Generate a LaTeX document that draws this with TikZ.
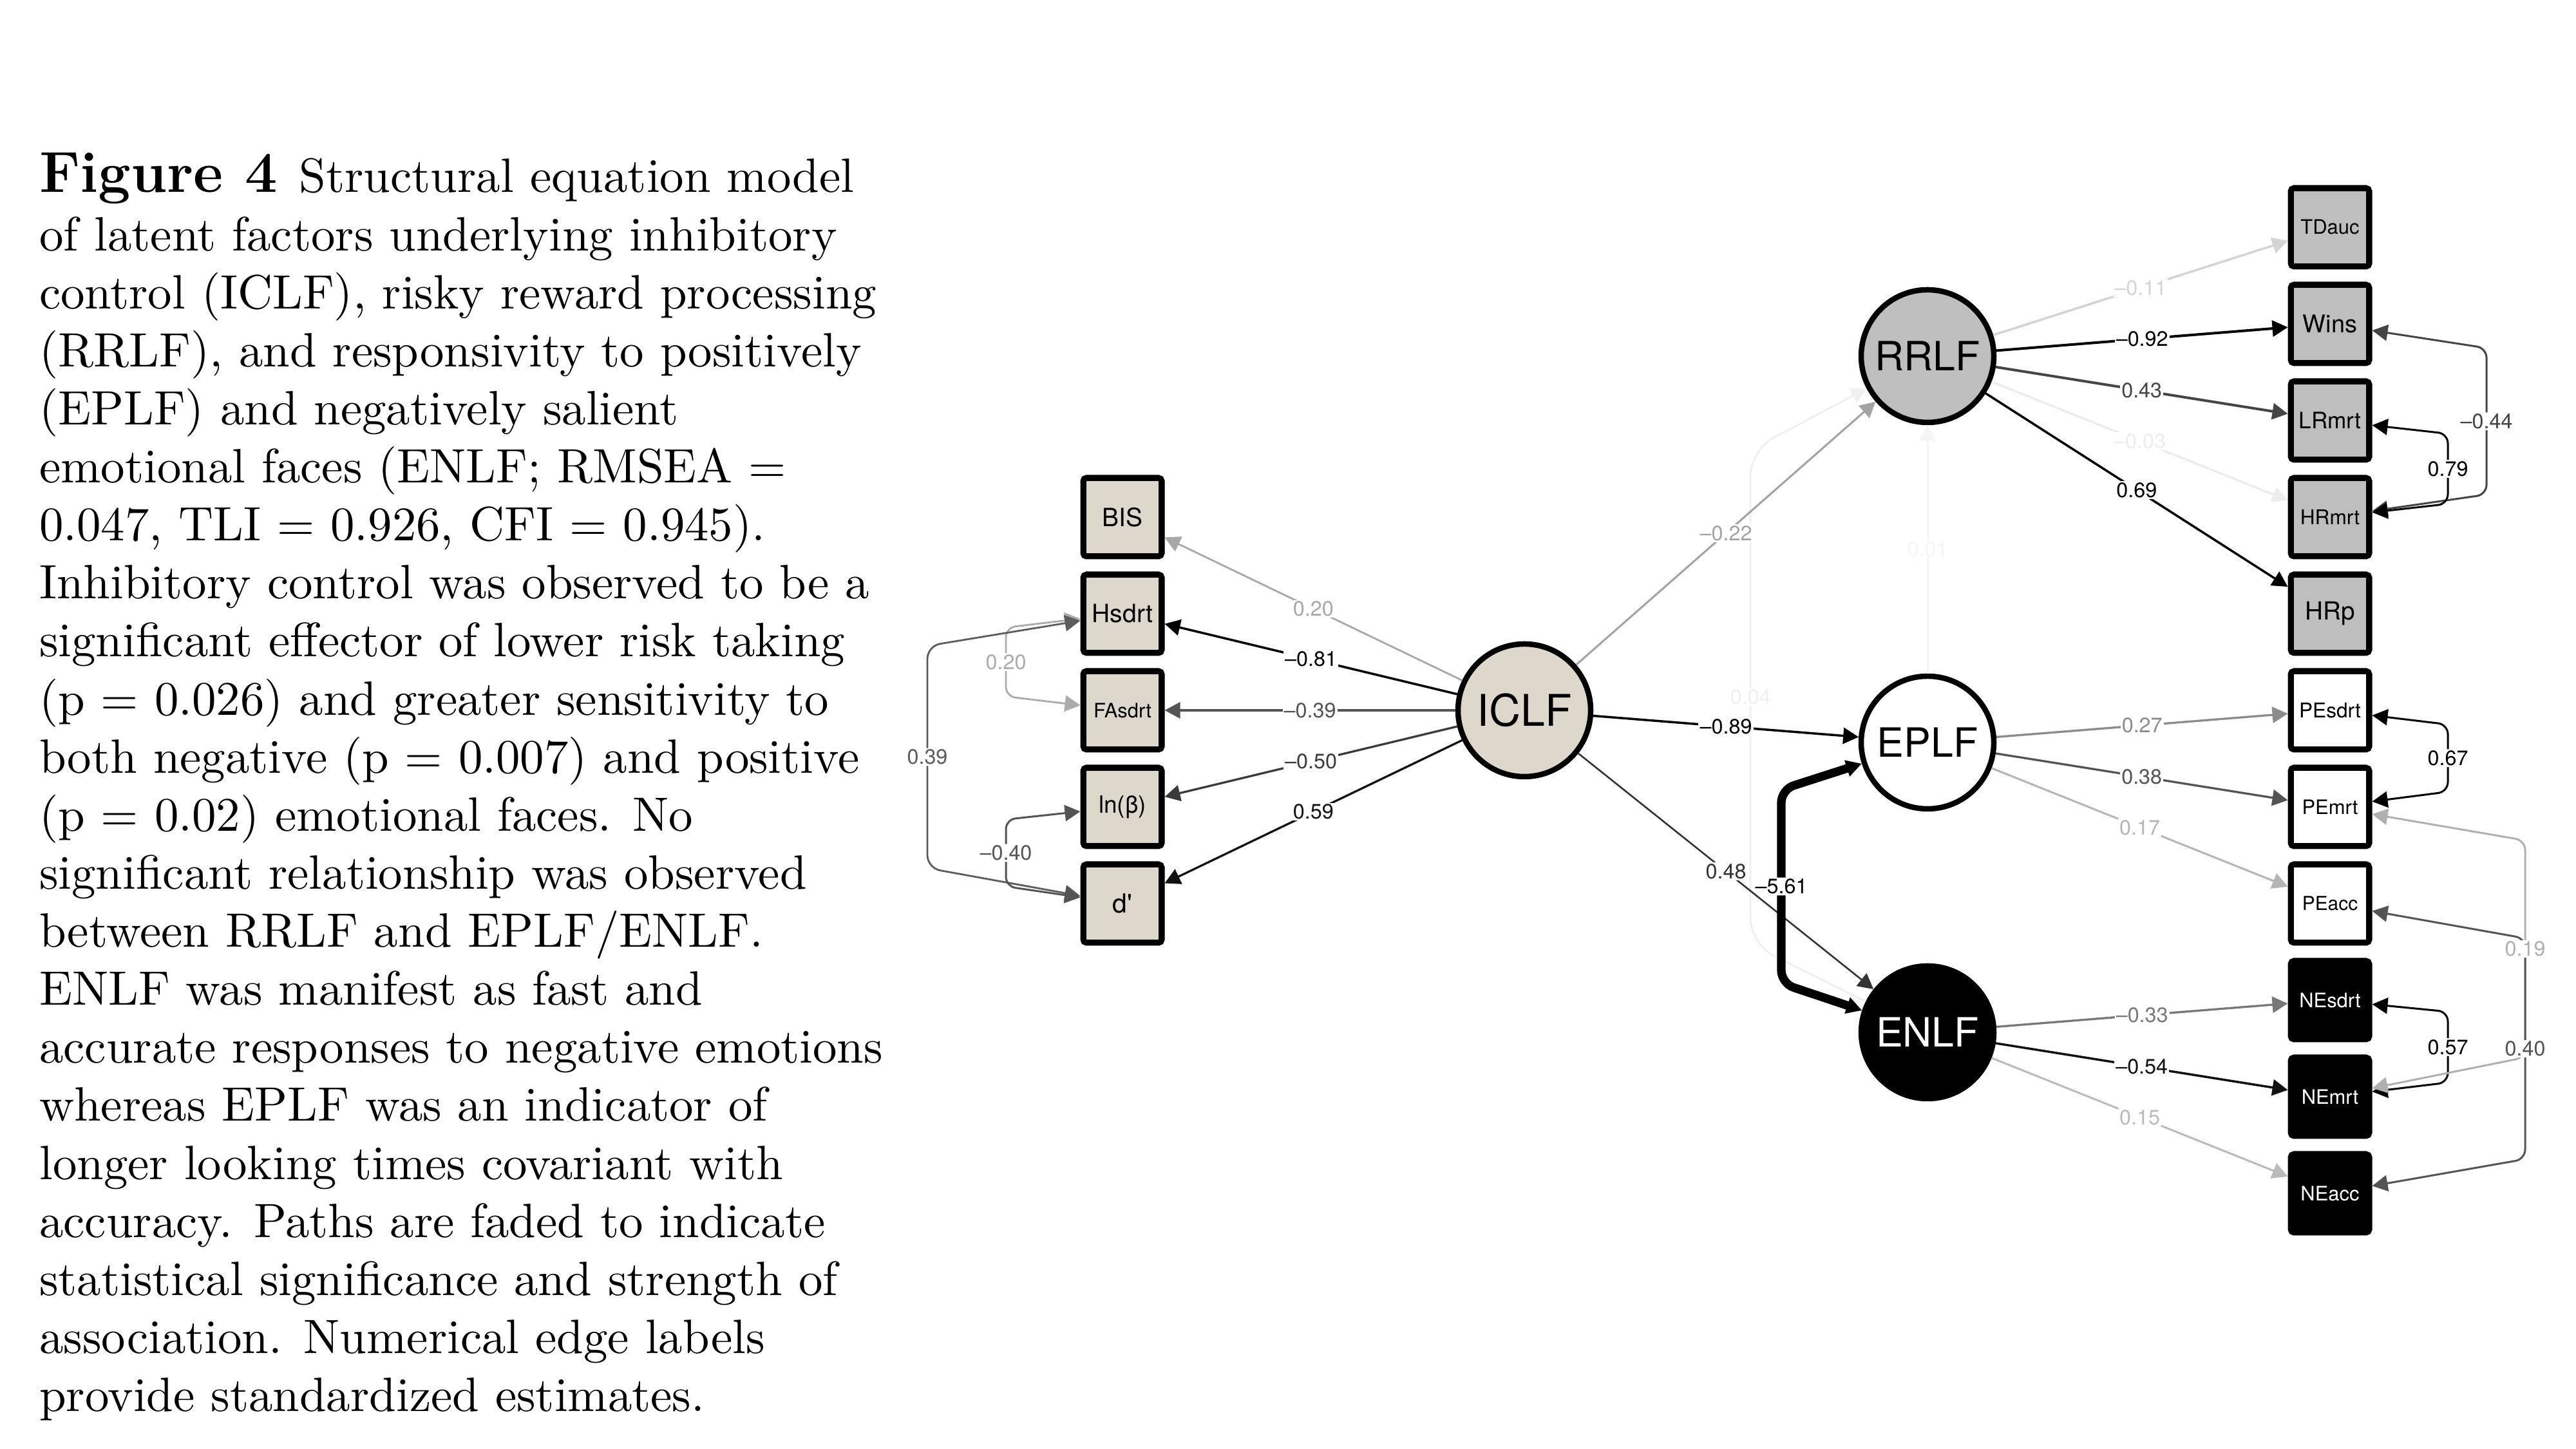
\documentclass[tikz,border=0pt]{standalone}
\usepackage{fontspec}
\newfontfamily\semfont{TeX Gyre Heros}[Ligatures=TeX]
\usepackage{tikz}
\usetikzlibrary{arrows.meta}

\font\capreg="[lmroman10-regular]:+tlig;" at 21.3pt
\font\capbold="[lmroman12-bold]:+tlig;" at 25.56pt

\definecolor{iclfbg}{RGB}{221,216,203}
\definecolor{rrlfbg}{RGB}{190,190,190}

\newcommand{\estfont}{\semfont\fontsize{9.2}{9.2}\selectfont}
\newcommand{\latfont}{\semfont\fontsize{17.8}{17.8}\selectfont}

\tikzset{
  latent/.style={circle, draw, line width=0.085cm, minimum size=2.06cm, inner sep=0pt},
  manifest/.style={rectangle, draw, line width=0.093cm, rounded corners=0.05cm,
    minimum size=1.217cm, inner sep=0pt},
  load/.style={-{Triangle[length=0.24cm,width=0.25cm]}},
  cov/.style={{Triangle[length=0.24cm,width=0.25cm]}-{Triangle[length=0.24cm,width=0.25cm]},
    rounded corners=0.15cm, line width=0.03cm},
  est/.style={fill=white, inner sep=0.6pt, font=\estfont},
}

\begin{document}
\begin{tikzpicture}

  \fill[white] (0,0) rectangle (40,22.5);
  \useasboundingbox (0,0) rectangle (40,22.5);

  % caption
  \node[anchor=base west, inner sep=0pt] (cap0) at (0.605,19.51)
    {{\capbold Figure 4 }{\capreg Structural equation model}};
  \foreach \captxt [count=\i] in {
    of latent factors underlying inhibitory,
    {control (ICLF), risky reward processing},
    {(RRLF), and responsivity to positively},
    (EPLF) and negatively salient,
    emotional faces (ENLF; RMSEA =,
    {0.047, TLI = 0.926, CFI = 0.945).},
    Inhibitory control was observed to be a,
    significant effector of lower risk taking,
    (p = 0.026) and greater sensitivity to,
    both negative (p = 0.007) and positive,
    (p = 0.02) emotional faces. No,
    significant relationship was observed,
    between RRLF and EPLF/ENLF.,
    ENLF was manifest as fast and,
    accurate responses to negative emotions,
    whereas EPLF was an indicator of,
    longer looking times covariant with,
    accuracy. Paths are faded to indicate,
    statistical significance and strength of,
    association. Numerical edge labels,
    provide standardized estimates.} {
    \node[anchor=base west, inner sep=0pt] (cap\i) at (0.605,19.51-0.9012*\i) {\capreg \captxt};
  }

  % latent factors
  \node[latent, fill=iclfbg, font=\semfont\fontsize{19.3}{19.3}\selectfont] (ICLF) at (23.67,11.47) {ICLF};
  \node[latent, fill=rrlfbg, font=\latfont] (RRLF) at (29.93,16.97) {RRLF};
  \node[latent, fill=white, font=\latfont] (EPLF) at (29.93,10.97) {EPLF};
  \node[latent, fill=black, text=white, font=\latfont] (ENLF) at (29.93,6.47) {ENLF};

  % inhibitory control indicators
  \foreach \nm/\txt/\y/\fs in {BIS/BIS/14.47/11.1, Hsdrt/Hsdrt/12.97/11.1, FAsdrt/FAsdrt/11.47/8.8,
      lnb/ln(β)/9.97/10.5, dprime/d\textquotesingle/8.47/11.6} {
    \node[manifest, fill=iclfbg, font=\semfont\fontsize{\fs}{\fs}\selectfont] (\nm) at (17.43,\y) {\txt};
  }

  % risky reward indicators
  \foreach \nm/\y/\fs in {TDauc/18.97/8.8, Wins/17.47/10.8, LRmrt/15.97/10, HRmrt/14.47/9, HRp/12.97/11} {
    \node[manifest, fill=rrlfbg, font=\semfont\fontsize{\fs}{\fs}\selectfont] (\nm) at (36.18,\y) {\nm};
  }

  % positive emotion indicators
  \foreach \nm/\y/\fs in {PEsdrt/11.47/9, PEmrt/9.97/8.8, PEacc/8.47/8.5} {
    \node[manifest, fill=white, font=\semfont\fontsize{\fs}{\fs}\selectfont] (\nm) at (36.18,\y) {\nm};
  }

  % negative emotion indicators
  \foreach \nm/\y/\fs in {NEsdrt/6.97/8.8, NEmrt/5.47/8.8, NEacc/3.97/8.8} {
    \node[manifest, fill=black, text=white, font=\semfont\fontsize{\fs}{\fs}\selectfont] (\nm) at (36.18,\y) {\nm};
  }

  % faint paths into RRLF
  \draw[load, color=black!4, line width=0.03cm] (EPLF) -- (RRLF) node[est, pos=0.5] {0.01};
  \draw[load, color=black!6, line width=0.03cm, rounded corners=0.4cm]
    (ENLF) -- (27.18,7.84) -- (27.18,15.51) node[est, midway] {0.04} -- (RRLF);

  % loadings of ICLF
  \foreach \to/\val/\col/\w in {BIS/0.20/black!34/0.028cm, Hsdrt/--0.81/black/0.035cm,
      FAsdrt/--0.39/black!67/0.033cm, lnb/--0.50/black!77/0.033cm, dprime/0.59/black!93/0.033cm} {
    \draw[load, color=\col, line width=\w] (ICLF) -- (\to) node[est, pos=0.5] {\val};
  }

  % residual covariances (left)
  \draw[cov, color=black!33, line width=0.028cm]
    (Hsdrt) -- (15.62,12.755) -- (15.62,11.685) node[est, midway] {0.20} -- (FAsdrt);
  \draw[cov, color=black!64, line width=0.028cm, rounded corners=0.2cm]
    (Hsdrt) -- (14.40,12.47) -- (14.40,9.02) node[est, midway] {0.39} -- (dprime);
  \draw[cov, color=black!67]
    (lnb) -- (15.62,9.775) -- (15.62,8.735) node[est, midway] {--0.40} -- (dprime);

  % structural paths
  \draw[load, color=black!36, line width=0.03cm] (ICLF) -- (RRLF) node[est, pos=0.5] {--0.22};
  \draw[load, color=black, line width=0.035cm] (ICLF) -- (EPLF) node[est, pos=0.5] {--0.89};
  \draw[load, color=black!80, line width=0.026cm] (ICLF) -- (ENLF) node[est, pos=0.5] {0.48};
  \draw[cov, color=black, line width=0.133cm, rounded corners=0.2cm]
    (EPLF) -- (27.66,10.24) -- (27.66,7.23) node[est, midway] {--5.61} -- (ENLF);

  % loadings of RRLF
  \foreach \to/\val/\col/\w in {TDauc/--0.11/black!17/0.035cm, Wins/--0.92/black/0.04cm,
      LRmrt/0.43/black!73/0.04cm, HRmrt/--0.03/black!7/0.035cm, HRp/0.69/black/0.035cm} {
    \draw[load, color=\col, line width=\w] (RRLF) -- (\to) node[est, pos=0.5] {\val};
  }

  % loadings of EPLF and ENLF
  \foreach \to/\val/\col/\w in {PEsdrt/0.27/black!45/0.033cm, PEmrt/0.38/black!67/0.033cm,
      PEacc/0.17/black!29/0.03cm} {
    \draw[load, color=\col, line width=\w] (EPLF) -- (\to) node[est, pos=0.5] {\val};
  }
  \foreach \to/\val/\col/\w in {NEsdrt/--0.33/black!53/0.033cm, NEmrt/--0.54/black!93/0.035cm,
      NEacc/0.15/black!27/0.03cm} {
    \draw[load, color=\col, line width=\w] (ENLF) -- (\to) node[est, pos=0.5] {\val};
  }

  % residual covariances (right)
  \draw[cov, color=black!73]
    (Wins) -- (38.61,17.095) -- (38.61,14.82) node[est, midway] {--0.44} -- (HRmrt);
  \draw[cov, color=black]
    (LRmrt) -- (38.01,15.765) -- (38.01,14.675) node[est, midway] {0.79} -- (HRmrt);
  \draw[cov, color=black]
    (PEsdrt) -- (38.01,11.25) -- (38.01,10.205) node[est, midway] {0.67} -- (PEmrt);
  \draw[cov, color=black]
    (NEsdrt) -- (38.01,6.79) -- (38.01,5.69) node[est, midway] {0.57} -- (NEmrt);
  \draw[cov, color=black!31]
    (PEmrt) -- (39.21,9.45) -- (39.21,6.08) coordinate[midway] (l19) -- (NEmrt);
  \draw[cov, color=black!67]
    (PEacc) -- (39.21,7.93) -- (39.21,4.50) coordinate[midway] (l40) -- (NEacc);

  % labels on top of the crossing covariances
  \node[est, text=black!31] at (l19) {0.19};
  \node[est, text=black!67] at (l40) {0.40};

\end{tikzpicture}
\end{document}
